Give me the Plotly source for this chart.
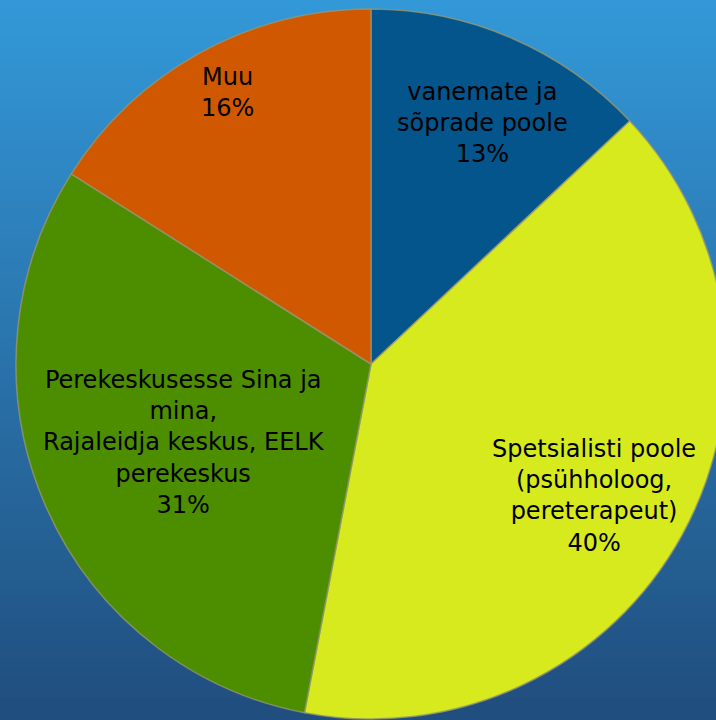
import plotly.graph_objects as go

# Slices, clockwise from the top
labels = [
    "vanemate ja<br>sõprade poole",
    "Spetsialisti poole<br>(psühholoog,<br>pereterapeut)",
    "Perekeskusesse Sina ja<br>mina,<br>Rajaleidja keskus, EELK<br>perekeskus",
    "Muu",
]
values = [13, 40, 31, 16]
colors = ["#03558C", "#D6EA1E", "#4C8E00", "#D05800"]

# label anchor points in pixels (centre of each text block)
label_px = [(482, 123), (594, 496), (184, 442), (227, 93)]

W, H = 742, 720
cx, cy, r = 371, 364, 355

fig = go.Figure(go.Pie(
    labels=labels,
    values=values,
    sort=False,
    direction="clockwise",
    rotation=0,
    marker=dict(colors=colors, line=dict(color="rgba(150,150,110,0.8)", width=1.5)),
    textinfo="none",
    showlegend=False,
    domain=dict(x=[(cx - r) / W, (cx + r) / W], y=[1 - (cy + r) / H, 1 - (cy - r) / H]),
))

# background gradient, light blue at top to dark blue at bottom
top = (51, 152, 216)
bot = (32, 78, 126)
n = 72
shapes = []
for i in range(n):
    t = i / (n - 1)
    c = tuple(round(top[k] + (bot[k] - top[k]) * t) for k in range(3))
    shapes.append(dict(type="rect", xref="paper", yref="paper", layer="below",
                       x0=0, x1=1, y0=1 - (i + 1) / n, y1=1 - i / n + 0.002,
                       fillcolor="rgb(%d,%d,%d)" % c, line=dict(width=0)))

annotations = []
for lab, val, (px, py) in zip(labels, values, label_px):
    annotations.append(dict(
        text="%s<br>%d%%" % (lab, val), x=px / W, y=1 - py / H,
        xref="paper", yref="paper", showarrow=False, align="center",
        xanchor="center", yanchor="middle",
        font=dict(family="DejaVu Sans", size=24, color="black"),
    ))

fig.update_layout(
    width=W, height=H,
    margin=dict(l=0, r=0, t=0, b=0),
    paper_bgcolor="#2A77B4",
    plot_bgcolor="rgba(0,0,0,0)",
    shapes=shapes,
    annotations=annotations,
)

fig.write_html("out.html", config={"displayModeBar": False},
               post_script="document.body.style.margin='0';document.body.style.overflow='hidden';")
